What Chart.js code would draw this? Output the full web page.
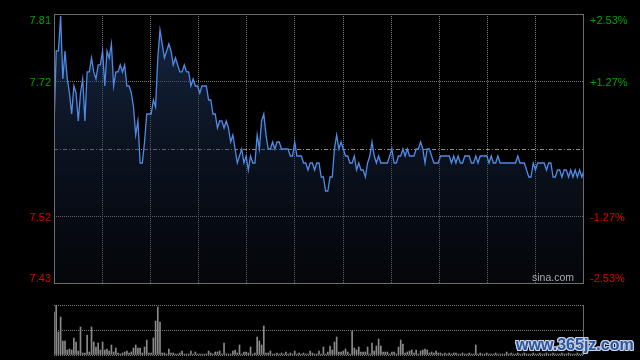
<!DOCTYPE html>
<html><head><meta charset="utf-8">
<script src="https://cdn.jsdelivr.net/npm/chart.js@4.4.1/dist/chart.umd.min.js"></script>
<style>
html,body{margin:0;padding:0;background:#000;width:640px;height:360px;overflow:hidden;}
#wrap{position:relative;width:640px;height:360px;background:#000;}
#pc{position:absolute;left:0;top:0;}
#vc{position:absolute;left:0;top:290px;}
#wm{position:absolute;left:516px;top:337px;font:bold 16px 'Liberation Sans',Arial,sans-serif;line-height:16px;color:#2a56a2;white-space:nowrap;
text-shadow:1px 0 0 #c9d2e2,-1px 0 0 #c9d2e2,0 1px 0 #c9d2e2,0 -1px 0 #c9d2e2,1px 1px 0 #c9d2e2,-1px -1px 0 #c9d2e2,1px -1px 0 #c9d2e2,-1px 1px 0 #c9d2e2;}
</style></head><body>
<div id="wrap">
<canvas id="pc" width="640" height="290"></canvas>
<canvas id="vc" width="640" height="70"></canvas>
<div id="wm">www.365jz.com</div>
</div>
<script>
// ---- data ----
const prevClose = 7.62;
const pctTicks = [2.53, 1.27, 0, -1.27, -2.53];
const priceLabels = ['7.81', '7.72', '', '7.52', '7.43'];
const pctLabels = ['+2.53%', '+1.27%', '', '-1.27%', '-2.53%'];
const prices = [
7.65,7.76,7.76,7.81,7.72,7.76,7.72,7.70,7.67,7.71,
7.70,7.66,7.70,7.72,7.66,7.73,7.73,7.75,7.73,7.72,
7.74,7.74,7.76,7.71,7.76,7.75,7.77,7.71,7.73,7.73,
7.74,7.73,7.74,7.71,7.71,7.70,7.68,7.64,7.66,7.60,
7.60,7.63,7.67,7.67,7.67,7.69,7.68,7.75,7.79,7.77,
7.75,7.76,7.77,7.76,7.74,7.75,7.74,7.73,7.73,7.74,
7.73,7.73,7.71,7.72,7.71,7.71,7.70,7.71,7.71,7.71,
7.69,7.69,7.67,7.67,7.65,7.66,7.66,7.65,7.66,7.65,
7.63,7.64,7.62,7.60,7.61,7.62,7.60,7.61,7.59,7.61,
7.60,7.60,7.64,7.62,7.66,7.67,7.64,7.62,7.62,7.63,
7.62,7.63,7.63,7.62,7.62,7.62,7.62,7.61,7.61,7.63,
7.61,7.61,7.61,7.60,7.60,7.59,7.60,7.60,7.59,7.60,
7.60,7.58,7.58,7.56,7.56,7.58,7.58,7.62,7.64,7.62,
7.63,7.62,7.61,7.61,7.60,7.60,7.61,7.59,7.60,7.59,
7.59,7.58,7.60,7.61,7.63,7.61,7.60,7.61,7.60,7.60,
7.60,7.60,7.61,7.62,7.60,7.60,7.61,7.61,7.62,7.61,
7.62,7.61,7.61,7.61,7.62,7.62,7.63,7.62,7.60,7.62,
7.62,7.61,7.60,7.60,7.60,7.61,7.61,7.61,7.61,7.61,
7.60,7.61,7.60,7.61,7.60,7.60,7.61,7.61,7.61,7.60,
7.60,7.61,7.60,7.61,7.61,7.61,7.61,7.60,7.61,7.60,
7.60,7.61,7.60,7.60,7.60,7.60,7.60,7.60,7.60,7.60,
7.61,7.60,7.60,7.60,7.59,7.58,7.58,7.60,7.59,7.60,
7.60,7.60,7.60,7.59,7.60,7.60,7.58,7.58,7.59,7.59,
7.58,7.59,7.59,7.58,7.59,7.58,7.59,7.58,7.59,7.58,
7.59
];
const volumes = [
43,50,23,38,14,14,5,6,5,17,
13,4,28,2,2,20,3,28,13,8,
12,5,13,5,6,4,10,3,7,2,
1,2,3,4,2,3,7,10,7,7,
2,8,15,2,2,17,34,48,33,2,
2,1,6,2,2,1,1,2,4,1,
1,1,4,1,3,1,1,1,1,1,
4,2,1,3,3,4,1,12,1,1,
1,4,5,2,10,1,3,3,2,8,
1,2,18,14,10,29,2,2,4,1,
1,2,1,2,1,3,1,2,1,4,
1,2,1,2,1,1,4,2,1,1,
4,1,8,1,3,9,5,13,18,3,
3,4,6,3,1,24,7,5,8,3,
3,3,8,1,12,4,9,16,9,3,
3,3,1,3,3,1,8,15,11,2,
3,4,5,2,5,1,4,5,6,5,
2,3,2,4,2,2,1,2,1,2,
1,2,2,1,1,2,1,1,2,1,
1,10,1,2,1,1,2,1,1,1,
2,1,1,1,1,3,1,2,1,1,
2,1,1,2,1,1,1,2,1,1,
2,1,1,2,1,1,2,1,1,1,
2,1,1,2,1,1,1,2,1,1,
2
];

// ---- derived ----
const hiP = prevClose * (1 + pctTicks[0] / 100);
const loP = prevClose * (1 + pctTicks[4] / 100);
const tickVals = pctTicks.map(p => prevClose * (1 + p / 100));
const nGrid = 11;
const volMax = Math.max(...volumes);
const FONT = "11px 'Liberation Sans', Arial, sans-serif";
const GRID = '#7c7c7c';
const BORDER = '#6c6c6c';
const GREEN = '#00a200';
const RED = '#e00000';

const priceDecor = {
  id: 'priceDecor',
  beforeDatasetsDraw(chart) {
    const {ctx, chartArea: a, scales: {y}} = chart;
    const py = Math.round(y.getPixelForValue(prevClose)) + 0.5;
    ctx.save();
    ctx.strokeStyle = '#8a8a8a';
    ctx.lineWidth = 1;
    ctx.setLineDash([4, 2, 1, 2]);
    ctx.beginPath(); ctx.moveTo(a.left, py); ctx.lineTo(a.right, py); ctx.stroke();
    ctx.restore();
  },
  afterDraw(chart) {
    const {ctx, chartArea: a, scales: {y}} = chart;
    ctx.save();
    ctx.strokeStyle = BORDER;
    ctx.lineWidth = 1;
    ctx.strokeRect(Math.round(a.left) + 0.5, Math.round(a.top) + 0.5,
                   Math.round(a.right - a.left) - 1, Math.round(a.bottom - a.top) - 1);
    ctx.font = FONT;
    ctx.textBaseline = 'alphabetic';
    pctTicks.forEach((p, i) => {
      if (!priceLabels[i]) return;
      const py = y.getPixelForValue(tickVals[i]);
      let by = py + 4.5;
      if (i === 0) by = py + 10;
      if (i === pctTicks.length - 1) by = py - 2.5;
      ctx.fillStyle = p > 0 ? GREEN : RED;
      ctx.textAlign = 'right';
      ctx.fillText(priceLabels[i], a.left - 3, by);
      ctx.textAlign = 'left';
      ctx.fillText(pctLabels[i], a.right + 6, by);
    });
    ctx.fillStyle = '#a8a8a8';
    ctx.font = "10.5px 'Liberation Sans', Arial, sans-serif";
    ctx.textAlign = 'right';
    ctx.fillText('sina.com', a.right - 10, a.bottom - 3);
    ctx.restore();
  }
};

new Chart(document.getElementById('pc'), {
  type: 'line',
  data: {
    datasets: [{
      data: prices.map((p, i) => ({x: i, y: p})),
      borderColor: '#4f8be6',
      borderWidth: 1.3,
      pointRadius: 0,
      tension: 0,
      fill: 'start',
      backgroundColor: (c) => {
        const a = c.chart.chartArea;
        if (!a) return 'rgba(20,35,60,0.5)';
        const g = c.chart.ctx.createLinearGradient(0, a.top, 0, a.bottom);
        g.addColorStop(0, 'rgba(36,62,108,0.62)');
        g.addColorStop(1, 'rgba(16,24,40,0.25)');
        return g;
      }
    }]
  },
  options: {
    responsive: false,
    animation: false,
    events: [],
    layout: {padding: {left: 54, right: 56, top: 14, bottom: 6}},
    plugins: {legend: {display: false}, tooltip: {enabled: false}},
    scales: {
      x: {
        type: 'linear', min: 0, max: prices.length - 1,
        afterBuildTicks: s => { s.ticks = Array.from({length: nGrid + 1}, (_, k) => ({value: k * (prices.length - 1) / nGrid})); },
        afterFit: s => { s.height = 0; },
        ticks: {display: false},
        grid: {color: c => (c.index === 0 || c.index === nGrid) ? 'rgba(0,0,0,0)' : GRID, lineWidth: 1, drawTicks: false},
        border: {display: false, dash: [1, 1]}
      },
      y: {
        type: 'linear', min: loP, max: hiP,
        afterBuildTicks: s => { s.ticks = tickVals.slice().sort((a, b) => a - b).map(v => ({value: v})); },
        afterFit: s => { s.width = 0; },
        ticks: {display: false},
        grid: {color: c => {
          const v = c.tick.value;
          if (Math.abs(v - prevClose) < 1e-6 || Math.abs(v - hiP) < 1e-6 || Math.abs(v - loP) < 1e-6) return 'rgba(0,0,0,0)';
          return GRID;
        }, lineWidth: 1, drawTicks: false},
        border: {display: false, dash: [1, 1]}
      }
    }
  },
  plugins: [priceDecor]
});

const volDecor = {
  id: 'volDecor',
  afterDraw(chart) {
    const {ctx, chartArea: a} = chart;
    ctx.save();
    ctx.strokeStyle = BORDER;
    ctx.lineWidth = 1;
    const x = Math.round(a.right) - 0.5;
    ctx.beginPath(); ctx.moveTo(x, a.top); ctx.lineTo(x, a.bottom); ctx.stroke();
    ctx.restore();
  }
};

new Chart(document.getElementById('vc'), {
  type: 'bar',
  data: {
    datasets: [{
      data: volumes.map((v, i) => ({x: i, y: v})),
      backgroundColor: '#8a8a8a',
      borderWidth: 0,
      barThickness: 1
    }]
  },
  options: {
    responsive: false,
    animation: false,
    events: [],
    layout: {padding: {left: 54, right: 56, top: 15, bottom: 5}},
    plugins: {legend: {display: false}, tooltip: {enabled: false}},
    scales: {
      x: {
        type: 'linear', min: 0, max: volumes.length - 1, offset: false,
        afterFit: s => { s.height = 0; },
        ticks: {display: false},
        grid: {display: false, offset: false},
        border: {display: false}
      },
      y: {
        type: 'linear', min: 0, max: volMax,
        afterBuildTicks: s => { s.ticks = [0, volMax / 2, volMax].map(v => ({value: v})); },
        afterFit: s => { s.width = 0; },
        ticks: {display: false},
        grid: {color: GRID, lineWidth: 1, drawTicks: false},
        border: {display: false, dash: [1, 1]}
      }
    }
  },
  plugins: [volDecor]
});
</script>
</body></html>
